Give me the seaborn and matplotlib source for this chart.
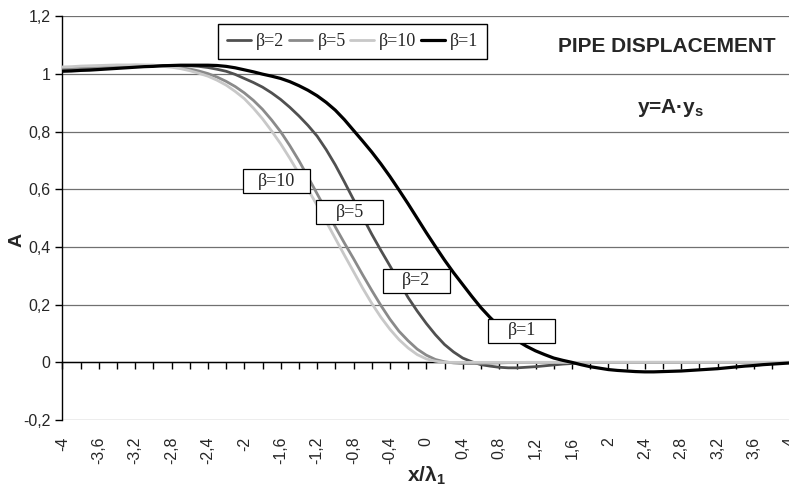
import numpy as np
import pandas as pd
import matplotlib
matplotlib.use("Agg")
import matplotlib.pyplot as plt
import matplotlib.transforms as mtransforms
from matplotlib.patches import Rectangle
from matplotlib.ticker import FixedLocator, MultipleLocator
import seaborn as sns

# ---------------- data ----------------
x_vals = np.round(np.arange(-4.0, 4.0001, 0.1), 1)

beta1 = [1.010, 1.011, 1.013, 1.014, 1.016, 1.018, 1.020, 1.022, 1.024, 1.026,
         1.027, 1.029, 1.030, 1.031, 1.031, 1.031, 1.031, 1.030, 1.027, 1.022,
         1.015, 1.008, 1.000, 0.993, 0.985, 0.974, 0.960, 0.944, 0.925, 0.902,
         0.875, 0.842, 0.805, 0.768, 0.730, 0.689, 0.645, 0.598, 0.550, 0.500,
         0.450, 0.402, 0.355, 0.311, 0.270, 0.229, 0.190, 0.156, 0.125, 0.098,
         0.075, 0.056, 0.040, 0.027, 0.015, 0.007, 0.000, -0.008, -0.015, -0.020,
         -0.025, -0.028, -0.030, -0.032, -0.033, -0.033, -0.032, -0.031, -0.030, -0.028,
         -0.026, -0.024, -0.022, -0.019, -0.016, -0.013, -0.011, -0.008, -0.006, -0.004,
         -0.002]
beta2 = [1.015, 1.016, 1.018, 1.019, 1.021, 1.022, 1.024, 1.025, 1.027, 1.028,
         1.029, 1.030, 1.030, 1.030, 1.029, 1.027, 1.023, 1.017, 1.010, 0.999,
         0.985, 0.971, 0.955, 0.935, 0.912, 0.885, 0.855, 0.822, 0.785, 0.738,
         0.685, 0.626, 0.565, 0.505, 0.445, 0.389, 0.335, 0.280, 0.225, 0.178,
         0.135, 0.096, 0.062, 0.036, 0.015, 0.002, -0.008, -0.013, -0.017, -0.019,
         -0.019, -0.017, -0.015, -0.012, -0.009, -0.006, -0.004, -0.002, -0.001, 0.000,
         0.000, 0.000, 0.000, 0.000, 0.000, 0.000, 0.000, 0.000, 0.000, 0.000,
         0.000, 0.000, 0.000, 0.000, 0.000, 0.000, 0.000, 0.000, 0.000, 0.000,
         0.000]
beta5 = [1.020, 1.021, 1.023, 1.024, 1.026, 1.027, 1.029, 1.030, 1.031, 1.031,
         1.031, 1.029, 1.027, 1.023, 1.018, 1.011, 1.002, 0.990, 0.975, 0.957,
         0.935, 0.909, 0.878, 0.841, 0.800, 0.752, 0.700, 0.643, 0.585, 0.527,
         0.470, 0.414, 0.360, 0.304, 0.250, 0.198, 0.150, 0.108, 0.075, 0.046,
         0.025, 0.010, 0.002, -0.002, -0.004, -0.004, -0.004, -0.003, -0.002, -0.001,
         -0.001, 0.000, 0.000, 0.000, 0.000, 0.000, 0.000, 0.000, 0.000, 0.000,
         0.000, 0.000, 0.000, 0.000, 0.000, 0.000, 0.000, 0.000, 0.000, 0.000,
         0.000, 0.000, 0.000, 0.000, 0.000, 0.000, 0.000, 0.000, 0.000, 0.000,
         0.000]
beta10 = [1.025, 1.026, 1.028, 1.029, 1.030, 1.031, 1.032, 1.032, 1.032, 1.031,
          1.030, 1.027, 1.024, 1.019, 1.012, 1.003, 0.993, 0.979, 0.962, 0.940,
          0.915, 0.882, 0.845, 0.803, 0.758, 0.708, 0.655, 0.600, 0.545, 0.488,
          0.430, 0.372, 0.315, 0.258, 0.205, 0.157, 0.115, 0.079, 0.050, 0.027,
          0.012, 0.004, 0.000, 0.000, 0.000, 0.000, 0.000, 0.000, 0.000, 0.000,
          0.000, 0.000, 0.000, 0.000, 0.000, 0.000, 0.000, 0.000, 0.000, 0.000,
          0.000, 0.000, 0.000, 0.000, 0.000, 0.000, 0.000, 0.000, 0.000, 0.000,
          0.000, 0.000, 0.000, 0.000, 0.000, 0.000, 0.000, 0.000, 0.000, 0.000,
          0.000]

series_names = ["β=2", "β=5", "β=10", "β=1"]
series_values = [beta2, beta5, beta10, beta1]

label_texts = ["β=10", "β=5", "β=2", "β=1"]
label_x = [-1.65, -0.84, -0.11, 1.05]
label_y = [0.629, 0.520, 0.284, 0.110]

y_ticks = [-0.2, 0.0, 0.2, 0.4, 0.6, 0.8, 1.0, 1.2]
y_tick_labels = ["-0,2", "0", "0,2", "0,4", "0,6", "0,8", "1", "1,2"]
x_ticks = np.round(np.arange(-4.0, 4.0001, 0.4), 1)
x_tick_labels = ["-4", "-3,6", "-3,2", "-2,8", "-2,4", "-2", "-1,6", "-1,2", "-0,8", "-0,4",
                 "0", "0,4", "0,8", "1,2", "1,6", "2", "2,4", "2,8", "3,2", "3,6", "4"]

# ---------------- style ----------------
series_colors = ["#505050", "#8a8a8a", "#c8c8c8", "#000000"]
series_widths = [2.0, 2.0, 2.0, 2.3]

sns.set_style("white")
plt.rcParams["font.family"] = ["Liberation Sans", "DejaVu Sans"]
plt.rcParams["mathtext.fontset"] = "custom"
plt.rcParams["mathtext.rm"] = "Liberation Sans"
plt.rcParams["mathtext.bf"] = "Liberation Sans:bold"
plt.rcParams["mathtext.it"] = "Liberation Sans:italic"

df = pd.DataFrame({
    "x": np.tile(x_vals, len(series_names)),
    "A": np.concatenate([np.asarray(v, float) for v in series_values]),
    "series": np.repeat(series_names, len(x_vals)),
})

W, H = 789, 486
fig = plt.figure(figsize=(W / 100, H / 100), dpi=100)
ax = fig.add_axes([62.3 / W, 66 / H, 728 / W, 403.5 / H])

for name, col, lw in zip(series_names, series_colors, series_widths):
    sns.lineplot(data=df[df["series"] == name], x="x", y="A", color=col,
                 linewidth=lw, label=name, ax=ax, zorder=3)

ax.set_xlim(-4, 4)
ax.set_ylim(-0.2, 1.2)

# grid
ax.set_yticks(y_ticks)
ax.set_yticklabels(y_tick_labels)
ax.yaxis.grid(True, color="#707070", linewidth=0.9)
ax.xaxis.grid(False)
ax.set_axisbelow(True)

# spines
for s in ["top", "right"]:
    ax.spines[s].set_visible(False)
ax.spines["left"].set_color("black")
ax.spines["left"].set_linewidth(1.0)
ax.spines["bottom"].set_position(("data", 0))
ax.spines["bottom"].set_color("black")
ax.spines["bottom"].set_linewidth(1.0)

# x ticks
ax.xaxis.set_major_locator(FixedLocator(x_ticks))
ax.set_xticklabels(x_tick_labels, rotation=90)
ax.xaxis.set_minor_locator(MultipleLocator(0.2))
ax.tick_params(axis="x", which="both", direction="out", length=5, width=1,
               color="black", bottom=True)
ax.tick_params(axis="x", which="major", pad=48.6, labelsize=11.5)
ax.tick_params(axis="y", which="major", direction="out", length=5, width=1,
               color="black", left=True, pad=3.5, labelsize=11.5)

# axis labels
ax.set_xlabel("x/λ$_{\\mathbf{1}}$", fontsize=15, fontweight="bold")
ax.xaxis.set_label_coords(0.5, -0.111)
ax.set_ylabel("A", fontsize=14, fontweight="bold")
ax.yaxis.set_label_coords(-0.05, 0.446)

# legend
leg = ax.legend(loc="center", bbox_to_anchor=(0.399, 0.937), ncol=4,
                frameon=True, fancybox=False, edgecolor="black", framealpha=1,
                prop={"family": "Liberation Serif", "size": 13},
                handlelength=1.3, handletextpad=0.3, columnspacing=0.25,
                borderpad=0.5, borderaxespad=0)
leg.get_frame().set_linewidth(1.0)

# annotations
ax.text(0.8306, 0.9257, "PIPE DISPLACEMENT", transform=ax.transAxes,
        ha="center", va="center", fontsize=15, fontweight="bold")
ax.text(0.836, 0.773, "y=A·y$_{\\mathbf{s}}$", transform=ax.transAxes,
        ha="center", va="center", fontsize=15, fontweight="bold")

for txt, lx, ly in zip(label_texts, label_x, label_y):
    trans = mtransforms.Affine2D() + mtransforms.ScaledTranslation(lx, ly, ax.transData)
    rect = Rectangle((-33.5, -12), 67, 24, transform=trans, facecolor="white",
                     edgecolor="black", linewidth=0.9, zorder=5)
    ax.add_artist(rect)
    ax.text(lx, ly, txt, ha="center", va="center", family="Liberation Serif",
            fontsize=13, zorder=6)

fig.savefig("out.png", dpi=100)
